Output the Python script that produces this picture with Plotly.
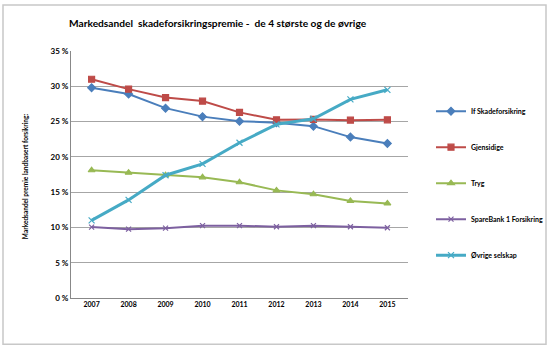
import plotly.graph_objects as go

years = ["2007", "2008", "2009", "2010", "2011", "2012", "2013", "2014", "2015"]
if_skade = [29.8, 28.9, 26.9, 25.7, 25.05, 24.85, 24.35, 22.8, 21.9]
gjensidige = [31.0, 29.6, 28.4, 27.9, 26.3, 25.25, 25.3, 25.2, 25.25]
tryg = [18.1, 17.75, 17.4, 17.1, 16.4, 15.25, 14.7, 13.75, 13.4]
sparebank = [10.05, 9.75, 9.9, 10.25, 10.25, 10.1, 10.25, 10.1, 9.95]
ovrige = [11.0, 13.9, 17.4, 19.0, 22.0, 24.6, 25.4, 28.15, 29.5]

y_ticks = [0, 5, 10, 15, 20, 25, 30, 35]
y_ticktext = ["0 %", "5 %", "10 %", "15 %", "20 %", "25 %", "30 %", "35 %"]

series = [
    ("If Skadeforsikring", if_skade, "#4A7EBB", "diamond", 2, 6),
    ("Gjensidige", gjensidige, "#BE4B48", "square", 2, 6),
    ("Tryg", tryg, "#98B954", "triangle-up", 2, 6),
    ("SpareBank 1 Forsikring", sparebank, "#7D60A0", "x-thin", 2, 5),
    ("Øvrige selskap", ovrige, "#46AAC5", "x-thin", 3, 6),
]

fig = go.Figure()
for i, (name, vals, color, sym, lw, ms) in enumerate(series):
    fig.add_trace(go.Scatter(
        x=years, y=vals, name=name, mode="lines+markers",
        line=dict(color=color, width=lw),
        marker=dict(symbol=sym, size=ms, color=color,
                    line=dict(color=color, width=1.2)),
        legendgroup=f"g{i}",
    ))

font_family = "Lato, Open Sans, sans-serif"

PL, PW, PB, PH = 71, 337, 297.7, 246.7

fig.update_layout(
    width=550, height=356,
    margin=dict(l=71, r=142, t=51, b=58, autoexpand=False),
    paper_bgcolor="white", plot_bgcolor="white",
    font=dict(family=font_family, size=8, color="#000000"),
    showlegend=True,
    legend=dict(
        x=(431 - PL) / PW, y=0.815, xanchor="left", yanchor="top",
        font=dict(size=7, family=font_family, color="#000000", weight="bold"),
        traceorder="grouped", tracegroupgap=17,
        bgcolor="rgba(0,0,0,0)",
    ),
    xaxis=dict(
        type="category", showgrid=False, showline=True,
        linecolor="#888888", linewidth=1, ticks="",
        tickfont=dict(size=7, family=font_family, color="#000000", weight="bold"),
        fixedrange=True,
    ),
    yaxis=dict(
        range=[0, 35], tickvals=y_ticks, ticktext=y_ticktext,
        showgrid=True, gridcolor="#A6A6A6", gridwidth=1,
        showline=True, linecolor="#888888", linewidth=1,
        zeroline=False, ticks="",
        tickfont=dict(size=8, family=font_family, color="#000000", weight="bold"),
        fixedrange=True,
    ),
    annotations=[
        dict(text="Markedsandel  skadeforsikringspremie -  de 4 største og de øvrige",
             xref="paper", yref="paper", x=(67 - PL) / PW, y=(PB - 23.5) / PH,
             xanchor="left", yanchor="middle", showarrow=False,
             font=dict(size=10.2, family=font_family, color="#000000", weight="bold")),
        dict(text="Markedsandel premie landbasert forsikring:",
             xref="paper", yref="paper", x=(25 - PL) / PW, y=(PB - 176) / PH,
             xanchor="center", yanchor="middle", showarrow=False, textangle=-90,
             font=dict(size=6.5, family=font_family, color="#000000", weight="bold")),
    ],
    shapes=[
        dict(type="rect", xref="paper", yref="paper",
             x0=(3 - PL) / PW, x1=(546 - PL) / PW,
             y0=(PB - 344) / PH, y1=(PB - 5) / PH,
             line=dict(color="#C8C8C8", width=1.5), fillcolor="rgba(0,0,0,0)", layer="below"),
    ],
)

fig.write_html("out.html", config={"displayModeBar": False},
               post_script="document.body.style.margin='0px';")
